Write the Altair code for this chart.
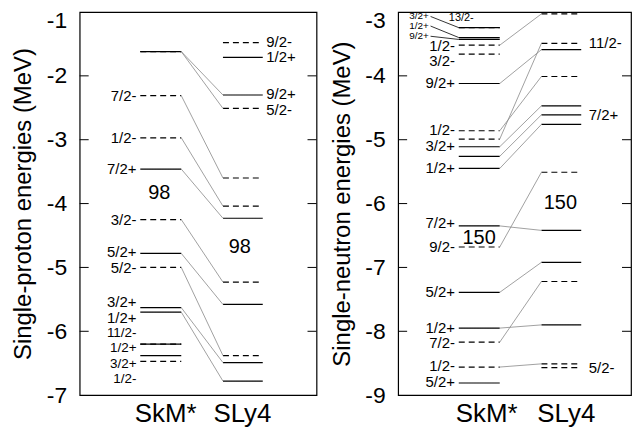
import altair as alt
import pandas as pd

FONT = "Liberation Sans"

# ---------------- proton levels (left panel) ----------------
p_state = ['9/2+', '5/2-', '9/2-', '1/2+', '7/2-', '1/2-', '7/2+', '3/2-',
           '5/2+', '5/2-', '3/2+', '1/2+', '11/2-', '1/2+', '3/2+', '1/2-']
p_skm = [-1.62, -1.62, None, None, -2.31, -2.97, -3.46, -4.25,
         -4.78, -5.00, -5.63, -5.70, -6.20, -6.20, -6.38, -6.47]
p_sly = [-2.30, -2.51, -1.48, -1.71, -3.60, -4.04, -4.23, -5.23,
         -5.58, -6.38, -6.49, -6.78, None, None, None, None]
p_skm_lab = [None, None, None, None, -2.31, -2.97, -3.46, -4.25,
             -4.765, -5.01, -5.54, -5.785, -6.025, -6.265, -6.505, -6.745]
p_skm_fs = [15, 15, 15, 15, 15, 15, 15, 15,
            15, 15, 15, 15, 13.5, 13.5, 13.5, 13.5]
p_sly_lab = [-2.29, -2.54, -1.465, -1.71, None, None, None, None,
             None, None, None, None, None, None, None, None]

# ---------------- neutron levels (right panel) ----------------
n_state = ['3/2+', '13/2-', '1/2+', '9/2+', '1/2-', '3/2-', '9/2+', '1/2-',
           '11/2-', '3/2+', '7/2+', '1/2+', '7/2+', '9/2-', '5/2+', '1/2+',
           '7/2-', '1/2-', '5/2-', '5/2+']
n_skm = [-3.245, -3.245, -3.40, -3.43, -3.52, -3.66, -4.12, -4.86,
         -4.99, -5.11, -5.26, -5.45, -6.35, -6.68, -7.39, -7.95,
         -8.17, -8.56, None, -8.81]
n_sly = [None, None, None, None, -3.03, None, -3.59, -4.01,
         -3.49, -4.47, -4.61, -4.76, -6.42, -5.51, -6.92, -7.90,
         -7.22, -8.51, -8.57, None]
n_skm_lab = [None, None, None, None, -3.53, -3.77, -4.12, -4.855,
             None, -5.10, None, -5.45, -6.31, -6.68, -7.39, -7.945,
             -8.19, -8.55, None, -8.80]
n_skm_fs = [15] * 20
n_sly_lab = [None, None, None, None, None, None, None, None,
             -3.49, None, -4.61, None, None, None, None, None,
             None, None, -8.57, None]

# small crowded labels at the top of the neutron panel
n_small_text = ['3/2+', '1/2+', '9/2+']
n_small_y = [-3.07, -3.22, -3.38]
n_small_target = [-3.245, -3.40, -3.43]
n_top_text = ['13/2-']
n_top_y = [-3.10]

# shell-gap numbers
p_magic = ['98', '98']
p_magic_y = [-3.84, -4.68]
n_magic = ['150', '150']
n_magic_y = [-6.54, -5.99]

models = ['SkM*', 'SLy4']

# ---------------- layout constants (fractions of panel width) ----------------
SKM_X0, SKM_X1 = 0.256, 0.429
SLY_X0, SLY_X1 = 0.605, 0.773
TICK = 0.038


def panel(states, skm, sly, skm_lab, skm_fs, sly_lab, ymin, ymax, wfrac, width,
          title, magic, magic_y, magic_x, model_x, sly_lab_x, extra=None):
    xs = alt.Scale(domain=[0, wfrac], nice=False, zero=False)
    ys = alt.Scale(domain=[ymin, ymax], nice=False, zero=False)

    lev = []
    for s, a, b in zip(states, skm, sly):
        st = 'dashed' if s.endswith('-') else 'solid'
        if a is not None:
            lev.append(dict(x=SKM_X0, x2=SKM_X1, y=a, st=st))
        if b is not None:
            lev.append(dict(x=SLY_X0, x2=SLY_X1, y=b, st=st))
    lev = pd.DataFrame(lev)

    con = pd.DataFrame([dict(x=SKM_X1, x2=SLY_X0, y=a, y2=b)
                        for a, b in zip(skm, sly) if a is not None and b is not None])

    labs = []
    for s, ly, fs in zip(states, skm_lab, skm_fs):
        if ly is not None:
            labs.append(dict(x=0.24, y=ly, t=s, fs=fs))
    labs_l = pd.DataFrame(labs)
    labs = []
    for s, ly in zip(states, sly_lab):
        if ly is not None:
            labs.append(dict(x=sly_lab_x, y=ly, t=s))
    labs_r = pd.DataFrame(labs)

    tv = list(range(ymin + 1, ymax))
    ticks = pd.DataFrame([dict(x=0, x2=TICK, y=v) for v in tv] +
                         [dict(x=wfrac - TICK, x2=wfrac, y=v) for v in tv])

    mg = pd.DataFrame(dict(t=magic, y=magic_y, x=magic_x))

    yaxis = alt.Axis(values=list(range(ymin, ymax + 1)), labelExpr="'' + datum.value",
                     ticks=True, tickSize=0, grid=False,
                     domain=False, labelFontSize=23, labelPadding=13,
                     labelFont=FONT, labelColor='black',
                     labelBaseline={"condition": {"test": f"datum.value == {ymax}", "value": "top"},
                                    "value": "middle"},
                     labelOffset={"condition": {"test": f"datum.value == {ymax}", "value": -2},
                                  "value": 0},
                     minExtent=35, maxExtent=35,
                     title=title, titleFont=FONT, titleFontSize=24,
                     titleFontWeight='normal', titleColor='black', titlePadding=9)
    xaxis = alt.Axis(values=model_x, labelExpr="datum.value < 0.55 ? 'SkM*' : 'SLy4'",
                     ticks=False, grid=False, domain=False, title=None,
                     labelFontSize=26, labelFont=FONT, labelColor='black',
                     labelPadding=5, labelFlush=False)

    levels = alt.Chart(lev).mark_rule(color='black', strokeWidth=1.2).encode(
        x=alt.X('x:Q', scale=xs, axis=xaxis), x2='x2:Q',
        y=alt.Y('y:Q', scale=ys, axis=yaxis),
        strokeDash=alt.StrokeDash('st:N', scale=alt.Scale(domain=['solid', 'dashed'],
                                                          range=[[1, 0], [6, 4]]), legend=None))
    conn = alt.Chart(con).mark_rule(color='#888888', strokeWidth=0.8).encode(
        x=alt.X('x:Q', scale=xs), x2='x2:Q', y=alt.Y('y:Q', scale=ys), y2='y2:Q')
    tk = alt.Chart(ticks).mark_rule(color='black', strokeWidth=1).encode(
        x=alt.X('x:Q', scale=xs), x2='x2:Q', y=alt.Y('y:Q', scale=ys))
    tl = alt.Chart(labs_l).mark_text(align='right', baseline='middle', font=FONT,
                                     color='black').encode(
        x=alt.X('x:Q', scale=xs), y=alt.Y('y:Q', scale=ys), text='t:N',
        size=alt.Size('fs:Q', scale=None, legend=None))
    tr = alt.Chart(labs_r).mark_text(align='left', baseline='middle', font=FONT,
                                     fontSize=15, color='black').encode(
        x=alt.X('x:Q', scale=xs), y=alt.Y('y:Q', scale=ys), text='t:N')
    tm = alt.Chart(mg).mark_text(align='center', baseline='middle', font=FONT,
                                 fontSize=20, color='black').encode(
        x=alt.X('x:Q', scale=xs), y=alt.Y('y:Q', scale=ys), text='t:N')

    layers = [levels, conn, tk, tl, tr, tm]
    if extra is not None:
        layers += extra(xs, ys)
    return alt.layer(*layers).properties(
        width=width, height=385,
        view=alt.ViewConfig(stroke='black', strokeWidth=1.2))


def neutron_extra(xs, ys):
    lead = pd.DataFrame(dict(x=[0.137] * 3, x2=[SKM_X0] * 3,
                             y=n_small_y, y2=n_small_target))
    sm = pd.DataFrame(dict(x=[0.13] * 3, y=n_small_y, t=n_small_text))
    top = pd.DataFrame(dict(x=[0.214], y=n_top_y, t=n_top_text))
    l1 = alt.Chart(lead).mark_rule(color='black', strokeWidth=0.8).encode(
        x=alt.X('x:Q', scale=xs), x2='x2:Q', y=alt.Y('y:Q', scale=ys), y2='y2:Q')
    l2 = alt.Chart(sm).mark_text(align='right', baseline='middle', font=FONT,
                                 fontSize=10, color='black').encode(
        x=alt.X('x:Q', scale=xs), y=alt.Y('y:Q', scale=ys), text='t:N')
    l3 = alt.Chart(top).mark_text(align='left', baseline='middle', font=FONT,
                                  fontSize=11, color='black').encode(
        x=alt.X('x:Q', scale=xs), y=alt.Y('y:Q', scale=ys), text='t:N')
    return [l1, l2, l3]


left = panel(p_state, p_skm, p_sly, p_skm_lab, p_skm_fs, p_sly_lab, -7, -1, 1.0, 238,
             'Single-proton energies (MeV)', p_magic, p_magic_y, [0.336, 0.676],
             [0.361, 0.685], 0.788)
right = panel(n_state, n_skm, n_sly, n_skm_lab, n_skm_fs, n_sly_lab, -9, -3, 234 / 238, 234,
              'Single-neutron energies (MeV)', n_magic, n_magic_y, [0.342, 0.685],
              [0.372, 0.708], 0.805, extra=neutron_extra)

chart = alt.hconcat(left, right, spacing=11).properties(
    padding={"left": 3, "top": 0, "right": 0, "bottom": 0}
).configure_view(stroke='black', strokeWidth=1.2).configure(background='white')

chart.save("out.html", embed_options={"renderer": "svg", "actions": False})
